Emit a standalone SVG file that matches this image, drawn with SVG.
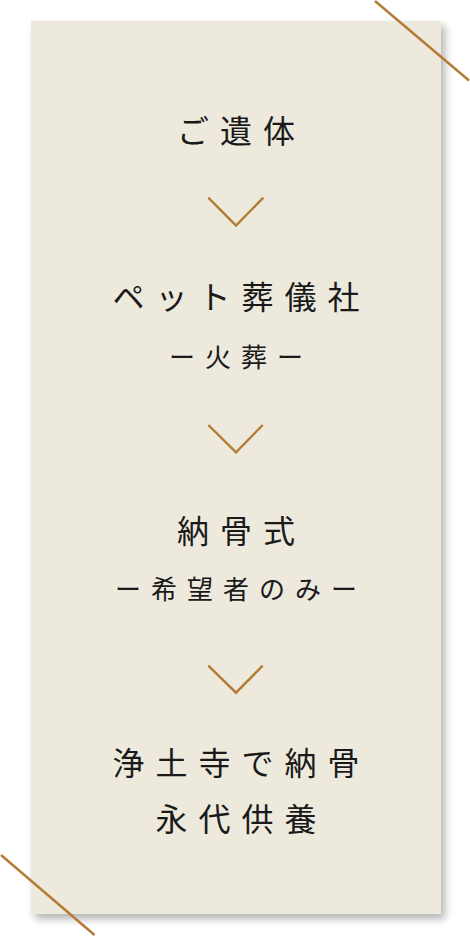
<svg xmlns="http://www.w3.org/2000/svg" width="470" height="940" viewBox="0 0 470 940">
<defs>
<filter id="sh" x="-10%" y="-10%" width="130%" height="130%">
<feGaussianBlur in="SourceAlpha" stdDeviation="4"/>
<feOffset dx="4" dy="5" result="b"/>
<feComponentTransfer><feFuncA type="linear" slope="0.3"/></feComponentTransfer>
<feMerge><feMergeNode/><feMergeNode in="SourceGraphic"/></feMerge>
</filter>
<style>
.t{font-family:"Noto Sans CJK JP","Noto Sans CJK SC",sans-serif;font-weight:400;fill:#1a1a1a;text-anchor:middle}
.m{font-size:32px;letter-spacing:11px}
.s{font-size:26px;letter-spacing:10px}
.ln{stroke:#b57a33;stroke-width:2.4;fill:none}
</style>
</defs>
<rect x="0" y="0" width="470" height="940" fill="#ffffff"/>
<rect id="panel" x="31" y="21" width="410" height="893" fill="#ede9dc" filter="url(#sh)"/>
<line class="ln" x1="375" y1="1" x2="469" y2="80.5"/>
<line class="ln" x1="1" y1="855" x2="94.5" y2="935"/>
<g id="n1"><text class="t m" x="241.5" y="143">ご遺体</text></g>
<g id="n2"><text class="t m" x="241.5" y="309">ペット葬儀社</text><text class="t s" x="241" y="367">ー火葬ー</text></g>
<g id="n3"><text class="t m" x="241.5" y="543">納骨式</text><text class="t s" x="241" y="599">ー希望者のみー</text></g>
<g id="n4"><text class="t m" x="241.5" y="775">浄土寺で納骨</text><text class="t m" x="241.5" y="831">永代供養</text></g>
<g id="connectors">
<polyline class="ln" points="208.3,197.7 236,225.5 263.3,197.7"/>
<polyline class="ln" points="208.3,425 236,452.3 262.7,425"/>
<polyline class="ln" points="208.3,665.7 236,692.7 262.7,665.7"/>
</g>
</svg>
